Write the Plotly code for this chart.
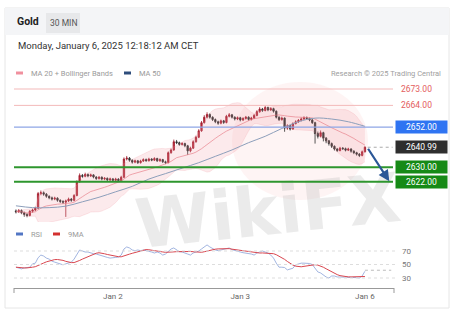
import plotly.graph_objects as go
import pandas as pd

W, H = 454, 320
def px(x): return x / W
def py(y): return 1 - y / H

# ---------------- data ----------------
bar_index = list(range(127))          # 30-minute bars, Dec 31 -> Jan 6 00:00 CET
tick_positions = [35, 81, 126]
tick_labels = ["Jan 2", "Jan 3", "Jan 6"]

opens = [2606.0, 2605.5, 2606.2, 2605.0, 2604.0, 2603.5, 2605.8, 2606.5,
         2607.5, 2615.5, 2616.0, 2615.2, 2614.0, 2613.2, 2612.5, 2613.0,
         2611.8, 2611.2, 2610.8, 2611.5, 2612.5, 2611.8, 2614.5, 2622.0,
         2625.5, 2625.0, 2626.0, 2625.2, 2625.8, 2624.6, 2623.8, 2624.5, 2623.5,
         2623.9, 2623.0, 2623.6, 2622.8, 2623.5, 2622.6, 2624.5,
         2634.5, 2635.0, 2633.8, 2632.8, 2633.5, 2632.5,
         2633.4, 2634.2, 2633.6, 2634.5, 2633.9, 2634.8, 2633.5, 2634.2, 2633.0,
         2632.6, 2638.0, 2639.5, 2644.0, 2643.5, 2642.5, 2643.0, 2641.8, 2639.0,
         2640.5, 2644.0, 2646.5, 2650.0, 2654.5, 2657.5, 2659.0, 2657.5,
         2656.2, 2655.0, 2654.2, 2655.5, 2654.6, 2658.0, 2658.8,
         2657.5, 2656.5, 2657.2, 2656.0, 2656.8, 2657.5, 2656.3, 2657.0,
         2658.5, 2660.5, 2662.0, 2661.2, 2662.8, 2661.5, 2662.2,
         2660.8, 2657.5, 2656.2, 2657.0, 2651.5, 2652.8,
         2651.0, 2654.0, 2655.0, 2655.8, 2656.5, 2657.2, 2656.8,
         2656.0, 2654.5, 2648.5, 2647.0, 2649.0, 2646.0, 2644.5, 2643.0,
         2641.5, 2640.0, 2639.2, 2640.5, 2640.2, 2639.4, 2640.0, 2638.8,
         2638.0, 2637.2, 2636.5, 2638.5]
closes = [2605.5, 2606.2, 2605.0, 2604.0, 2603.5, 2605.8, 2606.5, 2607.5,
          2615.5, 2616.0, 2615.2, 2614.0, 2613.2, 2612.5, 2613.0, 2611.8,
          2611.2, 2610.8, 2611.5, 2612.5, 2611.8, 2614.5, 2622.0, 2625.5,
          2625.0, 2626.0, 2625.2, 2625.8, 2624.6, 2623.8, 2624.5, 2623.5, 2623.9,
          2623.0, 2623.6, 2622.8, 2623.5, 2622.6, 2624.5, 2634.5,
          2635.0, 2633.8, 2632.8, 2633.5, 2632.5, 2633.4,
          2634.2, 2633.6, 2634.5, 2633.9, 2634.8, 2633.5, 2634.2, 2633.0, 2632.6,
          2638.0, 2639.5, 2644.0, 2643.5, 2642.5, 2643.0, 2641.8, 2639.0, 2640.5,
          2644.0, 2646.5, 2650.0, 2654.5, 2657.5, 2659.0, 2657.5, 2656.2,
          2655.0, 2654.2, 2655.5, 2654.6, 2658.0, 2658.8, 2657.5,
          2656.5, 2657.2, 2656.0, 2656.8, 2657.5, 2656.3, 2657.0, 2658.5,
          2660.5, 2662.0, 2661.2, 2662.8, 2661.5, 2662.2, 2660.8,
          2657.5, 2656.2, 2657.0, 2651.5, 2652.8, 2651.0,
          2654.0, 2655.0, 2655.8, 2656.5, 2657.2, 2656.8, 2656.0,
          2654.5, 2648.5, 2647.0, 2649.0, 2646.0, 2644.5, 2643.0, 2641.5,
          2640.0, 2639.2, 2640.5, 2640.2, 2639.4, 2640.0, 2638.8, 2638.0,
          2637.2, 2636.5, 2638.5, 2640.99]
highs = [2606.8, 2607.0, 2606.8, 2605.6, 2604.8, 2606.4, 2607.2, 2608.3,
         2616.4, 2617.2, 2616.7, 2615.8, 2614.6, 2613.9, 2613.8, 2613.5,
         2612.4, 2611.9, 2612.2, 2613.3, 2613.1, 2615.2, 2622.8, 2626.6,
         2626.3, 2627.0, 2626.6, 2626.5, 2626.2, 2625.1, 2625.2, 2625.0, 2624.6,
         2624.4, 2624.3, 2624.1, 2624.2, 2624.0, 2625.3, 2635.4,
         2636.2, 2635.6, 2634.4, 2634.2, 2634.0, 2634.1,
         2634.9, 2634.8, 2635.2, 2635.0, 2635.5, 2635.2, 2634.9, 2634.6, 2633.6,
         2638.7, 2640.3, 2645.2, 2645.0, 2644.1, 2643.8, 2643.5, 2642.3, 2641.3,
         2644.8, 2647.3, 2650.9, 2655.4, 2658.6, 2660.2, 2659.6, 2658.0,
         2656.8, 2655.6, 2656.2, 2656.0, 2658.8, 2659.8, 2659.3,
         2658.0, 2657.9, 2657.7, 2657.5, 2658.2, 2658.0, 2657.7, 2659.2,
         2661.3, 2663.0, 2662.6, 2663.6, 2663.3, 2663.0, 2662.7,
         2661.2, 2658.0, 2657.8, 2657.4, 2653.6, 2653.3,
         2654.7, 2655.8, 2656.5, 2657.3, 2658.0, 2657.9, 2657.3,
         2656.5, 2655.0, 2649.6, 2650.2, 2649.5, 2646.6, 2645.0, 2643.6,
         2642.0, 2640.6, 2641.2, 2641.1, 2640.8, 2640.7, 2640.5, 2639.4,
         2638.5, 2637.8, 2639.2, 2641.5]
lows = [2604.6, 2604.9, 2604.2, 2602.8, 2602.5, 2603.0, 2605.0, 2605.9,
        2607.0, 2614.6, 2614.3, 2613.2, 2612.4, 2611.7, 2611.9, 2611.0,
        2610.3, 2609.8, 2602.7, 2610.9, 2611.0, 2611.3, 2614.0, 2621.5,
        2624.2, 2624.5, 2624.5, 2624.6, 2623.9, 2623.0, 2623.2, 2622.8, 2622.9,
        2622.2, 2622.4, 2622.0, 2622.1, 2621.9, 2622.1, 2624.0,
        2633.7, 2633.0, 2632.0, 2632.2, 2631.8, 2632.0,
        2632.9, 2633.0, 2633.1, 2633.3, 2633.4, 2632.9, 2633.0, 2632.3, 2631.7,
        2632.1, 2637.4, 2639.0, 2642.7, 2641.8, 2641.9, 2641.0, 2636.8, 2638.2,
        2640.0, 2643.5, 2646.0, 2649.5, 2654.0, 2656.8, 2656.7, 2655.4,
        2654.2, 2653.3, 2653.6, 2653.8, 2654.1, 2657.4, 2656.8,
        2655.7, 2655.9, 2655.2, 2655.4, 2656.2, 2655.6, 2655.7, 2656.5,
        2658.0, 2660.0, 2660.4, 2660.7, 2660.8, 2661.0, 2660.0,
        2656.8, 2655.4, 2655.6, 2649.5, 2650.6, 2650.2,
        2650.6, 2653.5, 2654.4, 2655.2, 2656.0, 2656.1, 2655.3,
        2653.8, 2643.0, 2645.8, 2646.4, 2644.2, 2643.2, 2641.9, 2640.6,
        2639.2, 2638.4, 2638.7, 2639.5, 2638.7, 2638.9, 2638.0, 2637.2,
        2636.4, 2635.6, 2636.0, 2638.1]

ma50_index = [0, 6, 12, 18, 24, 30, 36, 42, 48, 54, 60, 66, 72, 78, 84, 90,
              96, 102, 108, 114, 120, 126]
ma50_values = [2608.8, 2607.8, 2607.8, 2608.6, 2611.0, 2613.5, 2616.5, 2619.5,
               2623.5, 2626.5, 2629.5, 2632.5, 2636.0, 2639.5, 2643.5, 2647.0,
               2651.3, 2655.0, 2657.0, 2656.5, 2655.0, 2652.5]

rsi = [46, 45, 43.5, 45, 45.5, 46, 51, 52, 60, 64, 62.5, 59.5, 58, 55, 53.5, 52,
       51, 49.5, 51, 52, 53.5, 58, 65.5, 71.5, 70, 68.5, 68.5, 67, 66, 65.5, 64,
       62.5, 61, 60.5, 59.5, 59.5, 60.5, 61, 64, 73, 76, 74.5, 71.5, 70.5, 71.5,
       70.5, 71.5, 70.5, 70, 68.5, 67, 68.5, 67, 64, 65.5, 70, 73, 74.5, 71.5,
       69, 68.5, 67.5, 65.5, 64, 67, 68.5, 70, 73, 76, 79, 76, 73.5, 71.5, 70.5,
       71.5, 71.5, 73.5, 74.5, 72, 70.5, 69, 68.5, 67.5, 67, 66, 65.5, 64, 67,
       68.5, 70, 68.5, 67, 64, 59.5, 52, 46, 46, 45.5, 42, 43, 44.5, 49.5, 51,
       52, 52, 52, 51.5, 50, 45, 39, 37.5, 34.5, 31.5, 30, 33, 33, 31.5, 31.5,
       31.5, 31.5, 31.5, 31.5, 30.5, 30.5, 30, 33, 40]

level_values = [2673, 2664, 2652, 2630, 2622]
level_labels = ["2673.00", "2664.00", "2652.00", "2630.00", "2622.00"]
last_price = 2640.99
last_price_label = "2640.99"
rsi_levels = [70, 50, 30]
target_price = 2622.3

# ---------------- derived indicators ----------------
cs = pd.Series(closes)
ma20 = cs.rolling(20, min_periods=1).mean()
sd20 = cs.rolling(20, min_periods=1).std(ddof=0)
bb_up = ma20 + 2 * sd20
bb_lo = ma20 - 2 * sd20
rsi_ma = pd.Series(rsi).rolling(9, min_periods=1).mean()

FONT = "Roboto, Arial, sans-serif"
fig = go.Figure()

fig.add_trace(go.Scatter(x=bar_index, y=bb_lo, mode="lines",
                         line=dict(color="rgba(240,150,160,0.35)", width=0.6),
                         hoverinfo="skip", showlegend=False))
fig.add_trace(go.Scatter(x=bar_index, y=bb_up, mode="lines", fill="tonexty",
                         fillcolor="rgba(242,150,160,0.20)",
                         line=dict(color="rgba(240,150,160,0.35)", width=0.6),
                         hoverinfo="skip", showlegend=False))
fig.add_trace(go.Scatter(x=bar_index, y=ma20, mode="lines",
                         line=dict(color="rgba(230,120,130,0.7)", width=0.9),
                         hoverinfo="skip", showlegend=False))
fig.add_trace(go.Scatter(x=ma50_index, y=ma50_values, mode="lines",
                         line=dict(color="#8d9fbb", width=1, shape="spline"),
                         hoverinfo="skip", showlegend=False))
fig.add_trace(go.Candlestick(
    x=bar_index, open=opens, high=highs, low=lows, close=closes,
    increasing=dict(line=dict(color="#9e1b2b", width=0.8), fillcolor="#c62a3c"),
    decreasing=dict(line=dict(color="#2b2b2b", width=0.8), fillcolor="#333333"),
    whiskerwidth=0, showlegend=False, xaxis="x", yaxis="y"))

fig.add_trace(go.Scatter(x=bar_index, y=rsi, mode="lines", xaxis="x2", yaxis="y2",
                         line=dict(color="#8aa2d8", width=0.8),
                         hoverinfo="skip", showlegend=False))
fig.add_trace(go.Scatter(x=bar_index, y=rsi_ma, mode="lines", xaxis="x2", yaxis="y2",
                         line=dict(color="#d9464f", width=1),
                         hoverinfo="skip", showlegend=False))

XR = [-0.7, 136.5]
shapes = []
ann = []

# card + header
shapes.append(dict(type="rect", xref="paper", yref="paper", x0=px(5), x1=px(449),
                   y0=py(308), y1=py(8), line=dict(color="#e6e6e6", width=1),
                   fillcolor="white", layer="below"))
shapes.append(dict(type="rect", xref="paper", yref="paper", x0=px(5), x1=px(449),
                   y0=py(35), y1=py(8), line=dict(width=0),
                   fillcolor="#f4f5f7", layer="below"))
shapes.append(dict(type="rect", xref="paper", yref="paper", x0=px(46), x1=px(80),
                   y0=py(33), y1=py(13), line=dict(width=0),
                   fillcolor="#e7e8ea", layer="below"))
# watermark (logo circle + text)
shapes.append(dict(type="circle", xref="paper", yref="paper", x0=px(232), x1=px(368),
                   y0=py(200), y1=py(82), line=dict(width=0),
                   fillcolor="rgba(245,170,170,0.13)", layer="below"))
shapes.append(dict(type="rect", xref="paper", yref="paper", x0=px(135), x1=px(400),
                   y0=py(262), y1=py(150), line=dict(width=0),
                   fillcolor="rgba(0,0,0,0)", layer="below",
                   label=dict(text="<b>WikiFX</b>", textangle=-6,
                              font=dict(size=68, color="rgba(175,175,175,0.25)",
                                        family="DejaVu Sans"))))

ann.append(dict(text="<b>Gold</b>", x=px(15), y=py(22), xref="paper", yref="paper",
                xanchor="left", yanchor="middle", showarrow=False,
                font=dict(size=10.5, color="#222", family=FONT)))
ann.append(dict(text="30 MIN", x=px(63), y=py(23), xref="paper", yref="paper",
                xanchor="center", yanchor="middle", showarrow=False,
                font=dict(size=8.5, color="#555", family=FONT)))
ann.append(dict(text="Monday, January 6, 2025 12:18:12 AM CET", x=px(16), y=py(45),
                xref="paper", yref="paper", xanchor="left", yanchor="middle",
                showarrow=False, font=dict(size=9.5, color="#333", family=FONT)))

# legends
def legend_item(x0, y, color, text, tx):
    shapes.append(dict(type="line", xref="paper", yref="paper", x0=px(x0), x1=px(x0 + 7),
                       y0=py(y), y1=py(y), line=dict(color=color, width=3)))
    ann.append(dict(text=text, x=px(tx), y=py(y), xref="paper", yref="paper",
                    xanchor="left", yanchor="middle", showarrow=False,
                    font=dict(size=7.5, color="#9a9a9a", family=FONT)))

legend_item(16, 73, "#f0909e", "MA 20 + Bollinger Bands", 29)
legend_item(124, 73, "#2e4d7b", "MA 50", 137)
legend_item(16, 234, "#5276c4", "RSI", 29)
legend_item(53, 234, "#d3302f", "9MA", 66)
ann.append(dict(text="Research © 2025 Trading Central", x=px(443), y=py(73),
                xref="paper", yref="paper", xanchor="right", yanchor="middle",
                showarrow=False, font=dict(size=7.5, color="#a0a0a0", family=FONT)))

# price levels
level_styles = [
    dict(line="#f3b9b9", w=1, box=None, fc="#e35d5d"),
    dict(line="#f3b9b9", w=1, box=None, fc="#e35d5d"),
    dict(line="#8ea6e6", w=1.3, box="#2f74f2", fc="white"),
    dict(line="#2e962e", w=2, box="#168a16", fc="white"),
    dict(line="#2e962e", w=2, box="#168a16", fc="white"),
]
for v, lab, st in zip(level_values, level_labels, level_styles):
    shapes.append(dict(type="line", xref="paper", yref="y", x0=px(14), x1=px(393),
                       y0=v, y1=v, line=dict(color=st["line"], width=st["w"])))
    if st["box"] is None:
        ann.append(dict(text=lab, x=px(399), y=v, xref="paper", yref="y",
                        xanchor="left", yanchor="middle", showarrow=False,
                        font=dict(size=8.5, color=st["fc"], family=FONT)))
    else:
        ann.append(dict(text=lab, x=px(421), y=v, xref="paper", yref="y",
                        xanchor="center", yanchor="middle", showarrow=False,
                        bgcolor=st["box"], width=49, height=10, borderpad=1,
                        font=dict(size=8.5, color=st["fc"], family=FONT)))
# last price
shapes.append(dict(type="line", xref="x", yref="y", x0=bar_index[-1] + 1, x1=XR[1] - 0.5,
                   y0=last_price, y1=last_price,
                   line=dict(color="#aaaaaa", width=1, dash="dot")))
ann.append(dict(text=last_price_label, x=px(421), y=last_price, xref="paper", yref="y",
                xanchor="center", yanchor="middle", showarrow=False,
                bgcolor="#2e2e2e", width=49, height=10, borderpad=1,
                font=dict(size=8.5, color="white", family=FONT)))
# forecast arrow
ann.append(dict(x=134.8, y=target_price, xref="x", yref="y",
                ax=bar_index[-1] + 0.8, ay=last_price, axref="x", ayref="y",
                showarrow=True, arrowhead=2, arrowsize=1, arrowwidth=2.2,
                arrowcolor="#2b5797", text=""))

# RSI grid and labels
for lv in rsi_levels:
    shapes.append(dict(type="line", xref="paper", yref="y2", x0=px(14), x1=px(395),
                       y0=lv, y1=lv, line=dict(color="#dddddd", width=1, dash="dot")))
    ann.append(dict(text=str(lv), x=px(400), y=lv, xref="paper", yref="y2",
                    xanchor="left", yanchor="middle", showarrow=False,
                    font=dict(size=8, color="#777", family=FONT)))
shapes.append(dict(type="line", xref="x2", yref="y2", x0=bar_index[-1], x1=XR[1] - 1,
                   y0=rsi[-1] + 1.5, y1=rsi[-1] + 1.5,
                   line=dict(color="#bbbbbb", width=1, dash="dot")))
# axis end ticks
for xe in (14, 394):
    shapes.append(dict(type="line", xref="paper", yref="paper", x0=px(xe), x1=px(xe),
                       y0=py(288), y1=py(293), line=dict(color="#999", width=1)))

fig.update_layout(
    width=W, height=H, autosize=False,
    margin=dict(l=0, r=0, t=0, b=0),
    paper_bgcolor="white", plot_bgcolor="rgba(0,0,0,0)",
    showlegend=False,
    font=dict(family=FONT),
    xaxis=dict(domain=[px(14), px(394)], range=XR, visible=False,
               rangeslider=dict(visible=False), anchor="y", fixedrange=True),
    yaxis=dict(domain=[py(222), py(82)], range=[2599.9, 2676.85], visible=False,
               anchor="x"),
    xaxis2=dict(domain=[px(14), px(394)], range=XR, anchor="y2",
                showline=True, linecolor="#999", linewidth=1,
                tickvals=tick_positions, ticktext=tick_labels, ticks="",
                tickfont=dict(size=8, color="#666", family=FONT),
                showgrid=False, zeroline=False),
    yaxis2=dict(domain=[py(288), py(242)], range=[15.19, 83.33], visible=False,
                anchor="x2"),
    shapes=shapes, annotations=ann,
)

fig.write_html("out.html")
